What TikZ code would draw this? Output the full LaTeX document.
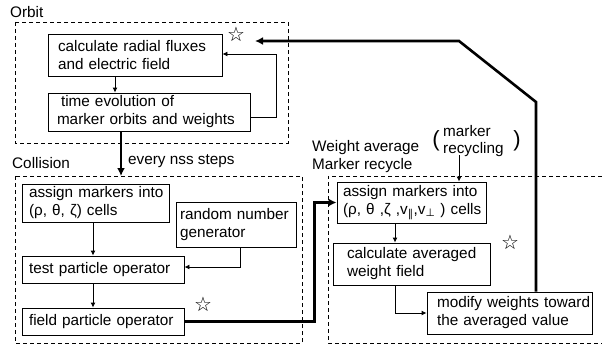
\documentclass[tikz,border=0pt]{standalone}
\usepackage{fontspec}
\setmainfont{Liberation Sans}
\newfontfamily\dejavu{DejaVu Sans}
\usetikzlibrary{arrows.meta}
\begin{document}
\begin{tikzpicture}[x=1pt,y=-1pt,
  font=\fontsize{15.3}{18}\selectfont,
  box/.style={draw,line width=0.9pt,align=left,inner ysep=0pt,anchor=center},
  dbox/.style={draw,dash pattern=on 4pt off 3pt,line width=0.8pt},
  thinarrow/.style={line width=0.9pt,-{Latex[length=5pt,width=5pt]}},
  thickarrow/.style={line width=2.6pt,-{Latex[length=8pt,width=8pt]}},
  lbl/.style={anchor=base west,inner sep=0pt},
  starmark/.style={font=\dejavu\fontsize{20}{20}\selectfont,inner sep=0pt}]
\useasboundingbox (0,0) rectangle (602,345);

% dashed groups
\coordinate (orbTL) at (15,22);
\coordinate (orbBR) at (288,143);
\coordinate (colTL) at (15,176);
\coordinate (colBR) at (302,343);
\draw[dbox] (orbTL) rectangle (orbBR);
\draw[dbox] (colTL) rectangle (colBR);
\coordinate (wR1) at (602,176);
\coordinate (wTL) at (328,176);
\coordinate (wBL) at (328,343);
\coordinate (wR2) at (602,343);
\draw[dbox] (wR1) -- (wTL) -- (wBL) -- (wR2);

% labels
\node[lbl] (lorbit) at (10,18) {Orbit};
\node[lbl] (lcoll) at (12,168) {Collision};
\node[lbl] (lnss) at (128,164) {every nss steps};
\node[lbl] (lwa) at (312,151) {Weight average};
\node[lbl] (lmr) at (312,169) {Marker recycle};
\node[lbl] (lmk) at (443,136) {marker};
\node[lbl] (lrc) at (443,153) {recycling};
\node[inner sep=0pt,font=\fontsize{22}{22}\selectfont] (lpo) at (436,141) {(};
\node[inner sep=0pt,font=\fontsize{22}{22}\selectfont] (lpc) at (517,141) {)};

% stars
\node[starmark] (s1) at (236,34) {☆};
\node[starmark] (s2) at (203,304) {☆};
\node[starmark] (s3) at (510,242) {☆};

% Orbit boxes
\node[box,inner xsep=10pt,text width=154pt,minimum height=42pt] (b1) at (135,55)
  {\mbox{calculate radial fluxes}\\\mbox{and electric field}};
\node[box,inner xsep=9pt,text width=184pt,minimum height=38pt] (b2) at (149,112)
  {\mbox{\hspace*{4pt}time evolution of}\\\mbox{marker orbits and weights}};

% Collision boxes
\node[box,inner xsep=7pt,text width=133pt,minimum height=38pt] (c1) at (95.5,203)
  {\mbox{assign markers into}\\\mbox{(ρ, θ, ζ) cells}};
\node[box,inner xsep=4pt,text width=112pt,minimum height=45pt] (c2) at (236,224.5)
  {\mbox{random number}\\\mbox{generator}};
\node[box,inner xsep=7pt,text width=148pt,minimum height=27pt] (c3) at (103,269.5)
  {\mbox{test particle operator}};
\node[box,inner xsep=7pt,text width=148pt,minimum height=27pt] (c4) at (103,321.5)
  {\mbox{field particle operator}};

% Weight boxes
\node[box,inner xsep=6pt,text width=137pt,minimum height=41pt] (w1) at (411.5,202.5)
  {\mbox{assign markers into}\\\mbox{(ρ, θ ,ζ ,v\textsubscript{\dejavu ∥},v\textsubscript{\dejavu ⊥} ) cells}};
\node[box,inner xsep=14pt,text width=129pt,minimum height=42pt] (w2) at (411.5,264)
  {\mbox{calculate averaged}\\\mbox{weight field}};
\node[box,inner xsep=10pt,text width=145pt,minimum height=42pt] (w3) at (509.5,313)
  {\mbox{modify weights toward}\\\mbox{the averaged value}};

% helper coordinates
\coordinate (x115) at (115,0);
\coordinate (x93) at (93,0);
\coordinate (x395) at (395,0);
\coordinate (colTop) at (121,176);
\coordinate (ret) at (255,41);
\coordinate (bendA) at (536,102);
\coordinate (bendB) at (459,41);
\coordinate (x536) at (536,0);
\coordinate (mrc) at (459,155);

% connectors
\draw[thinarrow] (b1.south -| x115) -- (b2.north -| x115);
\draw[thinarrow] ([yshift=-5pt]b2.east) -- ++(26,0) |- ([yshift=1pt]b1.east);
\draw[thickarrow] (b2.south -| colTop) -- (colTop);
\draw[thinarrow] (c1.south -| x93) -- (c3.north -| x93);
\draw[thinarrow] (c3.south -| x93) -- (c4.north -| x93);
\draw[thinarrow] ([xshift=4pt]c2.south) |- ([yshift=2.5pt]c3.east);
\draw[thickarrow] (c4.east) -- ++(130,0) |- (w1.west);
\draw[thinarrow] (mrc) -- (w1.north -| mrc);
\draw[thinarrow] (w1.south -| x395) -- (w2.north -| x395);
\draw[thinarrow] (w2.south -| x395) |- (w3.west);
\draw[thickarrow,line join=miter] (w3.north -| x536) -- (bendA) -- (bendB) -- (ret);
\end{tikzpicture}
\end{document}
